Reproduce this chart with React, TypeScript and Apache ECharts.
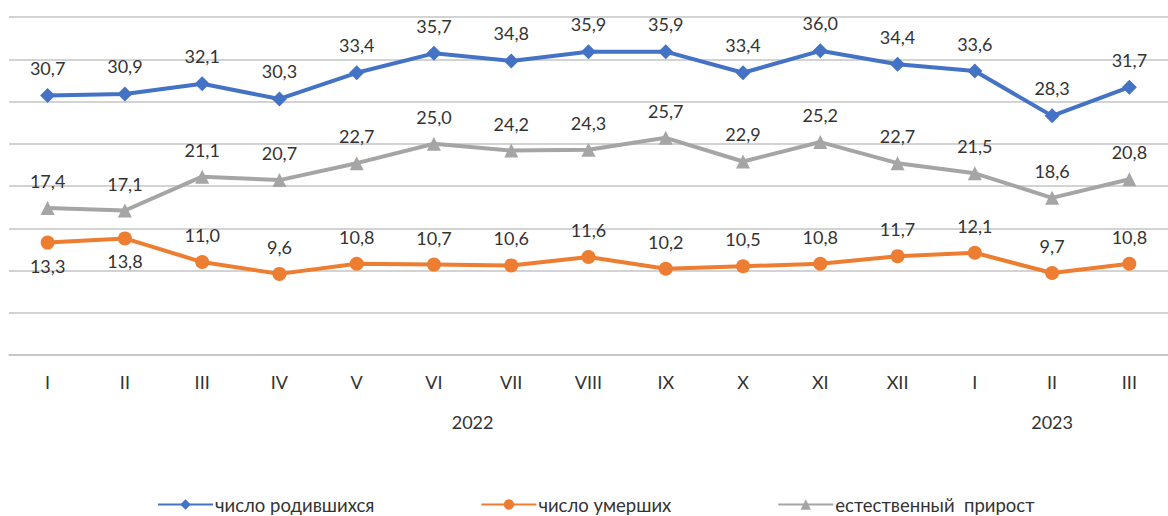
import React, { useEffect, useRef } from "react";
import * as echarts from "echarts";

const months = ["I", "II", "III", "IV", "V", "VI", "VII", "VIII", "IX", "X", "XI", "XII", "I", "II", "III"];
const births = [30.7, 30.9, 32.1, 30.3, 33.4, 35.7, 34.8, 35.9, 35.9, 33.4, 36.0, 34.4, 33.6, 28.3, 31.7];
const deaths = [13.3, 13.8, 11.0, 9.6, 10.8, 10.7, 10.6, 11.6, 10.2, 10.5, 10.8, 11.7, 12.1, 9.7, 10.8];
const natural = [17.4, 17.1, 21.1, 20.7, 22.7, 25.0, 24.2, 24.3, 25.7, 22.9, 25.2, 22.7, 21.5, 18.6, 20.8];
const deathsLabelBelow = [0, 1];
const years = [
  { pos: 5.5, label: "2022" },
  { pos: 13, label: "2023" },
];
const seriesNames = ["число родившихся", "число умерших", "естественный  прирост"];

const FONT = "Lato, 'Open Sans', sans-serif";
const TEXT = "#333333";

const fmt = (v: number) => v.toFixed(1).replace(".", ",");

export default function App() {
  const ref = useRef<HTMLDivElement>(null);
  useEffect(() => {
    if (!ref.current) return;
    const chart = echarts.init(ref.current, null, { renderer: "svg" });
    const label = {
      show: true,
      position: "top" as const,
      distance: 11,
      fontSize: 18,
      color: TEXT,
      fontFamily: FONT,
      formatter: (p: any) => fmt(p.value),
    };
    chart.setOption({
      animation: false,
      textStyle: { fontFamily: FONT },
      grid: { left: 9, top: 17, width: 1161, height: 338, containLabel: false },
      legend: {
        data: seriesNames,
        left: 152,
        top: 490,
        itemGap: 106,
        itemWidth: 55,
        itemHeight: 13,
        textStyle: { fontSize: 18.5, color: TEXT, fontFamily: FONT, padding: [0, 0, 0, -3] },
      },
      xAxis: [
        {
          type: "category",
          data: months,
          boundaryGap: true,
          axisLine: { show: true, lineStyle: { color: "#c4c4c4", width: 1.5 } },
          axisTick: { show: false },
          axisLabel: { color: TEXT, fontSize: 18, margin: 18, fontFamily: FONT },
        },
        {
          type: "value",
          position: "bottom",
          min: -0.5,
          max: 14.5,
          offset: 48,
          axisLine: { show: false },
          axisTick: { show: false },
          splitLine: { show: false },
          axisLabel: {
            show: true,
            customValues: years.map((y) => y.pos),
            formatter: (v: number) => {
              const f = years.find((y) => Math.abs(y.pos - v) < 1e-6);
              return f ? f.label : "";
            },
            color: TEXT,
            fontSize: 18,
            margin: 10,
            fontFamily: FONT,
          },
        },
      ],
      yAxis: {
        type: "value",
        min: 0,
        max: 40,
        interval: 5,
        axisLabel: { show: false },
        axisLine: { show: false },
        axisTick: { show: false },
        splitLine: { lineStyle: { color: "#c4c4c4", width: 1.5 } },
      },
      series: [
        {
          name: seriesNames[0],
          type: "line",
          data: births,
          symbol: "diamond",
          symbolSize: 15,
          lineStyle: { color: "#4472C4", width: 4 },
          itemStyle: { color: "#4472C4" },
          label,
        },
        {
          name: seriesNames[1],
          type: "line",
          data: deaths.map((v, i) =>
            deathsLabelBelow.includes(i)
              ? { value: v, label: { position: "bottom", distance: 7 } }
              : v
          ),
          symbol: "circle",
          symbolSize: 14,
          lineStyle: { color: "#ED7D31", width: 4 },
          itemStyle: { color: "#ED7D31" },
          label,
        },
        {
          name: seriesNames[2],
          type: "line",
          data: natural,
          symbol: "triangle",
          symbolSize: 14,
          lineStyle: { color: "#A5A5A5", width: 4 },
          itemStyle: { color: "#A5A5A5" },
          label,
        },
      ],
    });
    return () => chart.dispose();
  }, []);
  return (
    <div
      ref={ref}
      style={{ position: "fixed", left: 0, top: 0, width: 1168, height: 516, background: "#fff" }}
    />
  );
}
